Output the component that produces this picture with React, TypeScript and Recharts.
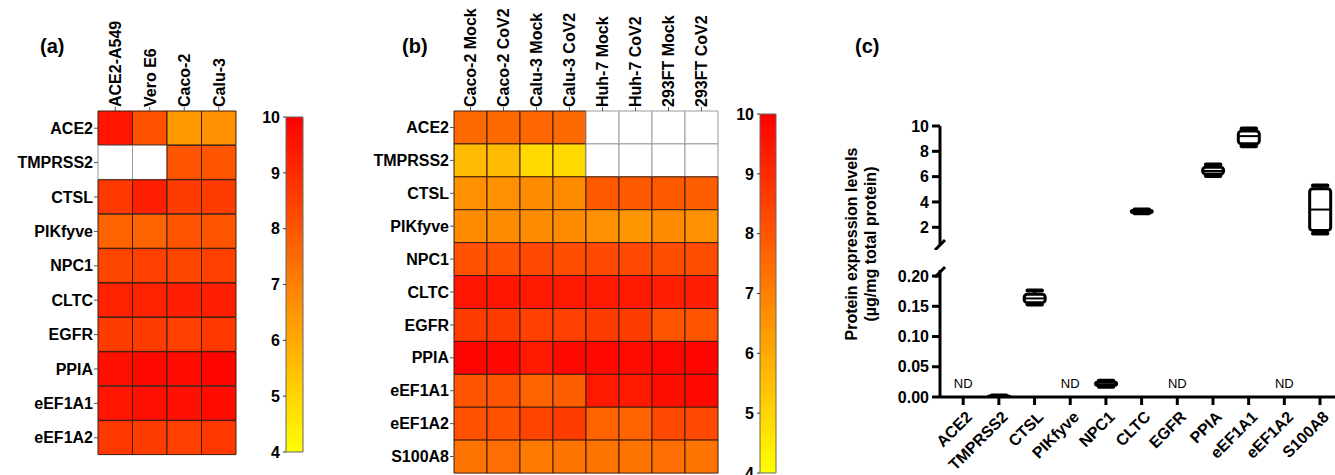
import React from 'react';
import {
  BarChart,
  ComposedChart,
  Bar,
  Cell,
  Scatter,
  XAxis,
  YAxis,
  ReferenceLine,
} from 'recharts';

const FONT = '"Liberation Sans", Arial, Helvetica, sans-serif';

// panel (a)
const genesA = ['ACE2', 'TMPRSS2', 'CTSL', 'PIKfyve', 'NPC1', 'CLTC', 'EGFR', 'PPIA', 'eEF1A1', 'eEF1A2'];
const cellsA = ['ACE2-A549', 'Vero E6', 'Caco-2', 'Calu-3'];
const valuesA: (number | null)[][] = [
  [9.5, 8.1, 6.4, 6.6],
  [null, null, 8.0, 8.0],
  [8.7, 9.3, 8.6, 8.6],
  [7.7, 7.7, 8.0, 8.0],
  [8.35, 8.5, 8.35, 8.5],
  [9.2, 9.2, 9.3, 9.3],
  [8.6, 8.6, 8.5, 8.7],
  [9.65, 9.8, 9.75, 9.9],
  [9.5, 9.65, 9.65, 9.75],
  [8.7, 8.6, 8.5, 8.7],
];

// panel (b)
const genesB = ['ACE2', 'TMPRSS2', 'CTSL', 'PIKfyve', 'NPC1', 'CLTC', 'EGFR', 'PPIA', 'eEF1A1', 'eEF1A2', 'S100A8'];
const cellsB = ['Caco-2 Mock', 'Caco-2 CoV2', 'Calu-3 Mock', 'Calu-3 CoV2', 'Huh-7 Mock', 'Huh-7 CoV2', '293FT Mock', '293FT CoV2'];
const valuesB: (number | null)[][] = [
  [7.5, 7.5, 7.6, 7.5, null, null, null, null],
  [5.6, 5.6, 4.9, 4.9, null, null, null, null],
  [6.6, 6.6, 6.7, 6.7, 7.9, 7.9, 7.9, 7.8],
  [6.7, 6.7, 6.7, 6.7, 6.6, 6.5, 6.7, 6.6],
  [8.1, 8.1, 8.3, 8.2, 8.3, 8.3, 8.2, 8.2],
  [9.5, 9.5, 9.4, 9.4, 9.4, 9.4, 9.3, 9.3],
  [8.6, 8.6, 8.5, 8.5, 8.6, 8.6, 8.0, 8.0],
  [9.9, 9.85, 9.4, 9.8, 9.8, 9.75, 9.85, 9.9],
  [8.0, 8.0, 7.7, 7.8, 9.4, 9.4, 9.7, 9.8],
  [8.1, 8.1, 8.4, 8.6, 7.7, 7.7, 8.3, 8.3],
  [7.3, 7.4, 7.1, 7.3, 7.3, 7.3, 7.4, 7.3],
];

const colorTicks = [4, 5, 6, 7, 8, 9, 10];

// panel (c): [min, q1, median, q3, max], null = not detected
const genesC = ['ACE2', 'TMPRSS2', 'CTSL', 'PIKfyve', 'NPC1', 'CLTC', 'EGFR', 'PPIA', 'eEF1A1', 'eEF1A2', 'S100A8'];
const boxesC: (number[] | null)[] = [
  null,
  [0.0005, 0.001, 0.0015, 0.002, 0.0025],
  [0.153, 0.156, 0.163, 0.17, 0.176],
  null,
  [0.017, 0.019, 0.021, 0.025, 0.027],
  [3.1, 3.15, 3.25, 3.35, 3.4],
  null,
  [6.05, 6.2, 6.45, 6.75, 6.95],
  [8.4, 8.6, 9.2, 9.6, 9.8],
  null,
  [1.5, 1.75, 3.4, 5.05, 5.3],
];
const upperTicks = [2, 4, 6, 8, 10];
const lowerTicks = [0, 0.05, 0.1, 0.15, 0.2];
const ND_LEVEL = 0.023;

const heat = (v: number) => {
  const t = Math.max(0, Math.min(1, (10 - v) / 6));
  return `rgb(255, ${Math.round(255 * t)}, 0)`;
};

const boldTick = { fontSize: 16, fontWeight: 'bold', fill: '#000', fontFamily: FONT };

function ColTick(props: any) {
  const { x, y, payload, labels } = props;
  const label = labels[Math.floor(payload.value)];
  return (
    <text
      x={x}
      y={y}
      transform={`rotate(-90 ${x} ${y})`}
      dy="0.36em"
      textAnchor="start"
      fontSize={16}
      fontWeight="bold"
      fontFamily={FONT}
      fill="#000"
    >
      {label}
    </text>
  );
}

function Heatmap({ genes, cells, values, width, yAxisWidth, marginRight, marginBottom }: any) {
  const rows = genes.map((g: string) => {
    const r: any = { gene: g };
    cells.forEach((_: string, i: number) => (r['c' + i] = 1));
    return r;
  });
  return (
    <BarChart
      width={width}
      height={475}
      layout="vertical"
      data={rows}
      margin={{ top: 0, right: marginRight, bottom: marginBottom, left: 0 }}
      barCategoryGap={0}
    >
      <XAxis
        type="number"
        orientation="top"
        domain={[0, cells.length]}
        ticks={cells.map((_: string, i: number) => i + 0.5)}
        interval={0}
        height={111}
        axisLine={false}
        tickSize={4}
        tickMargin={0}
        tickLine={{ stroke: '#555' }}
        tick={(p: any) => <ColTick {...p} labels={cells} />}
      />
      <YAxis
        type="category"
        dataKey="gene"
        width={yAxisWidth}
        interval={0}
        axisLine={false}
        tickSize={4}
        tickMargin={1}
        tickLine={{ stroke: '#555' }}
        tick={boldTick}
      />
      {cells.map((c: string, i: number) => (
        <Bar key={c} dataKey={'c' + i} stackId="h" isAnimationActive={false}>
          {genes.map((g: string, j: number) => {
            const v = values[j][i];
            return (
              <Cell
                key={g}
                fill={v == null ? '#ffffff' : heat(v)}
                stroke={v == null ? '#9a9a9a' : '#3a1c10'}
                strokeWidth={1}
              />
            );
          })}
        </Bar>
      ))}
    </BarChart>
  );
}

function ColorBar({ id, width, top, bottom, yAxisWidth, barWidth }: any) {
  return (
    <BarChart
      width={width}
      height={475}
      data={[{ name: 'scale', range: [4, 10] }]}
      margin={{ top, bottom, left: 0, right: width - yAxisWidth - barWidth }}
      barCategoryGap={0}
    >
      <defs>
        <linearGradient id={id} x1="0" y1="0" x2="0" y2="1">
          {colorTicks
            .slice()
            .reverse()
            .map((v) => (
              <stop key={v} offset={`${((10 - v) / 6) * 100}%`} stopColor={heat(v)} />
            ))}
        </linearGradient>
      </defs>
      <XAxis dataKey="name" hide />
      <YAxis
        type="number"
        domain={[4, 10]}
        ticks={colorTicks}
        interval={0}
        width={yAxisWidth}
        axisLine={false}
        tickSize={3}
        tickMargin={3}
        tickLine={{ stroke: '#333' }}
        tick={boldTick}
      />
      <Bar dataKey="range" fill={`url(#${id})`} stroke="#666" isAnimationActive={false} />
    </BarChart>
  );
}

function BoxShape(props: any) {
  const { x, y, width, height, payload } = props;
  const s = payload && payload.stats;
  if (!s || !isFinite(y) || !isFinite(height)) return null;
  const top = Math.min(y, y + height);
  const h = Math.abs(height);
  const k = h / (s[4] - s[0]);
  const py = (v: number) => top + (s[4] - v) * k;
  const cx = x + width / 2;
  const cap = width * 0.3;
  return (
    <g>
      <line x1={cx} x2={cx} y1={py(s[4])} y2={py(s[0])} stroke="#000" strokeWidth={3} />
      <line x1={cx - cap} x2={cx + cap} y1={py(s[4])} y2={py(s[4])} stroke="#000" strokeWidth={4} strokeLinecap="round" />
      <line x1={cx - cap} x2={cx + cap} y1={py(s[0])} y2={py(s[0])} stroke="#000" strokeWidth={4} strokeLinecap="round" />
      <rect
        x={x + 1.5}
        y={py(s[3])}
        width={width - 3}
        height={Math.max(0.5, py(s[1]) - py(s[3]))}
        rx={3}
        fill="#fff"
        stroke="#000"
        strokeWidth={3}
      />
      <line x1={x + 1.5} x2={x + width - 1.5} y1={py(s[2])} y2={py(s[2])} stroke="#000" strokeWidth={2} />
    </g>
  );
}

function NdShape(props: any) {
  const { cx, cy } = props;
  return (
    <text x={cx} y={cy} dy="0.35em" textAnchor="middle" fontSize={13} fontFamily={FONT} fill="#000">
      ND
    </text>
  );
}

function GeneTick(props: any) {
  const { x, y, payload } = props;
  const ax = x + 2;
  const ay = y + 3;
  return (
    <text
      x={ax}
      y={ay}
      transform={`rotate(-45 ${ax} ${ay})`}
      textAnchor="end"
      dy="0.7em"
      fontSize={16}
      fontWeight="bold"
      fontFamily={FONT}
      fill="#000"
    >
      {genesC[payload.value]}
    </text>
  );
}

const axisStroke = { stroke: '#000', strokeWidth: 3 };
const X_DOMAIN = [-0.65, 10.42];
const geneIdx = genesC.map((_, i) => i);

export default function App() {
  const upperData = genesC.map((g, i) => {
    const s = boxesC[i];
    return { x: i, gene: g, stats: s && s[4] > 1 ? s : null };
  });
  const lowerData = genesC.map((g, i) => {
    const s = boxesC[i];
    return { x: i, gene: g, stats: s && s[4] <= 0.21 ? s : null };
  });
  const ndData = genesC
    .map((g, i) => ({ x: i, y: ND_LEVEL, gene: g, nd: boxesC[i] == null }))
    .filter((d) => d.nd);
  const range = (d: any) => (d.stats ? [d.stats[0], d.stats[4]] : null);

  return (
    <div
      style={{
        position: 'absolute',
        left: 0,
        top: 0,
        width: 1335,
        height: 475,
        overflow: 'hidden',
        background: '#fff',
        fontFamily: FONT,
      }}
    >
      <div style={{ position: 'absolute', left: 0, top: 0 }}>
        <Heatmap genes={genesA} cells={cellsA} values={valuesA} width={240} yAxisWidth={98} marginRight={4} marginBottom={20} />
      </div>
      <div style={{ position: 'absolute', left: 240, top: 0 }}>
        <ColorBar id="cbA" width={70} top={117} bottom={23} yAxisWidth={46} barWidth={17} />
      </div>
      <div style={{ position: 'absolute', left: 350, top: 0 }}>
        <Heatmap genes={genesB} cells={cellsB} values={valuesB} width={370} yAxisWidth={104} marginRight={2} marginBottom={2} />
      </div>
      <div style={{ position: 'absolute', left: 700, top: 0 }}>
        <ColorBar id="cbB" width={80} top={114} bottom={2} yAxisWidth={60} barWidth={16} />
      </div>

      <div style={{ position: 'absolute', left: 840, top: 0 }}>
        <ComposedChart width={495} height={250} data={upperData} margin={{ top: 126, right: 0, bottom: 5, left: 0 }}>
          <XAxis type="number" dataKey="x" domain={X_DOMAIN} ticks={geneIdx} allowDataOverflow hide />
          <YAxis
            type="number"
            domain={[0.6, 10]}
            ticks={upperTicks}
            interval={0}
            allowDataOverflow
            width={100}
            axisLine={axisStroke}
            tickLine={axisStroke}
            tickSize={8}
            tickMargin={3}
            tick={boldTick}
          />
          <Bar dataKey={range} barSize={24} shape={<BoxShape />} isAnimationActive={false} />
          <ReferenceLine
            segment={[{ x: -0.79, y: 0.6 - 0.4 }, { x: -0.51, y: 0.6 + 0.4 }]}
            stroke="#000"
            strokeWidth={3}
            ifOverflow="visible"
          />
        </ComposedChart>
      </div>

      <div style={{ position: 'absolute', left: 840, top: 250 }}>
        <ComposedChart width={495} height={225} data={lowerData} margin={{ top: 20, right: 0, bottom: 0, left: 0 }}>
          <XAxis
            type="number"
            dataKey="x"
            domain={X_DOMAIN}
            ticks={geneIdx}
            interval={0}
            allowDataOverflow
            height={78}
            axisLine={axisStroke}
            tickLine={axisStroke}
            tickSize={8}
            tickMargin={2}
            tick={<GeneTick />}
          />
          <YAxis
            type="number"
            domain={[0, 0.21]}
            ticks={lowerTicks}
            interval={0}
            allowDataOverflow
            width={100}
            axisLine={axisStroke}
            tickLine={axisStroke}
            tickSize={8}
            tickMargin={3}
            tickFormatter={(v: number) => v.toFixed(2)}
            tick={boldTick}
          />
          <Bar dataKey={range} barSize={24} shape={<BoxShape />} isAnimationActive={false} />
          <Scatter data={ndData} dataKey="y" shape={<NdShape />} isAnimationActive={false} />
          <ReferenceLine
            segment={[{ x: -0.79, y: 0.198 }, { x: -0.51, y: 0.215 }]}
            stroke="#000"
            strokeWidth={3}
            ifOverflow="visible"
          />
        </ComposedChart>
      </div>

      <svg width={1335} height={475} style={{ position: 'absolute', left: 0, top: 0, pointerEvents: 'none' }}>
        <g fontFamily={FONT} fontWeight="bold" fill="#000">
          <text x={40} y={53} fontSize={20}>(a)</text>
          <text x={402} y={53} fontSize={20}>(b)</text>
          <text x={855} y={53} fontSize={20}>(c)</text>
          <text x={857} y={244} fontSize={16} textAnchor="middle" transform="rotate(-90 857 244)">
            Protein expression levels
          </text>
          <text x={876} y={244} fontSize={16} textAnchor="middle" transform="rotate(-90 876 244)">
            (µg/mg total protein)
          </text>
        </g>
      </svg>
    </div>
  );
}
